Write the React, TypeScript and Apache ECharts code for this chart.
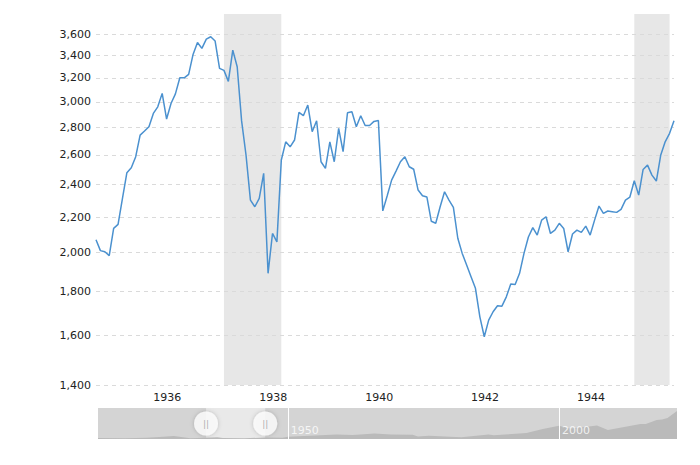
import React, { useEffect, useRef } from 'react';
import * as echarts from 'echarts';

// Monthly categories: Dec 1934 .. Nov 1945 (132 months)
const FIRST_YEAR = 1934;
const FIRST_MONTH = 12;
const MONTH_COUNT = 132;
const months: string[] = [];
for (let k = 0; k < MONTH_COUNT; k++) {
  const m = FIRST_MONTH - 1 + k;
  const y = FIRST_YEAR + Math.floor(m / 12);
  const mm = (m % 12) + 1;
  months.push(`${y}-${String(mm).padStart(2, '0')}`);
}

// Inflation-adjusted index values
const values: number[] = [
  2070, 2010, 2004, 1983, 2134, 2157, 2313, 2479, 2512, 2588, 2743, 2773,
  2805, 2908, 2960, 3069, 2864, 2987, 3065, 3201, 3200, 3230, 3408, 3520,
  3464, 3552, 3574, 3533, 3283, 3265, 3170, 3448, 3297, 2850, 2600, 2303,
  2262, 2313, 2475, 1891, 2105, 2058, 2565, 2694, 2658, 2707, 2916, 2890,
  2974, 2768, 2851, 2553, 2508, 2694, 2553, 2793, 2623, 2913, 2921, 2805,
  2890, 2815, 2815, 2846, 2853, 2237, 2330, 2430, 2490, 2553, 2588, 2519,
  2502, 2366, 2330, 2322, 2175, 2164, 2262, 2355, 2303, 2258, 2078, 1995,
  1934, 1873, 1816, 1682, 1594, 1667, 1705, 1733, 1731, 1775, 1837, 1835,
  1891, 1995, 2085, 2138, 2096, 2182, 2202, 2105, 2124, 2163, 2134, 2004,
  2102, 2124, 2111, 2147, 2096, 2182, 2266, 2222, 2236, 2232, 2228, 2246,
  2303, 2322, 2426, 2334, 2501, 2530, 2463, 2424, 2600, 2694, 2756, 2851,
];

const yTicks: number[] = [1400, 1600, 1800, 2000, 2200, 2400, 2600, 2800, 3000, 3200, 3400, 3600];
const xLabelYears: number[] = [1936, 1938, 1940, 1942, 1944];
const recessions: [string, string][] = [
  ['1937-05', '1938-06'],
  ['1945-02', '1945-10'],
];

// Navigator (full history) – rough annual shape read from the slider
const sliderYears: number[] = [
  1915, 1920, 1924, 1927, 1929, 1931, 1932, 1936, 1937, 1938, 1942, 1946, 1949, 1950,
  1955, 1959, 1962, 1966, 1969, 1973, 1974, 1976, 1980, 1982, 1987, 1988, 1990, 1994,
  1997, 2000, 2002, 2004, 2007, 2009, 2011, 2013, 2015, 2016, 2018, 2019, 2020, 2021.75,
];
const sliderValues: number[] = [
  1200, 1000, 1500, 2700, 3700, 1800, 900, 1800, 2200, 1200, 1000, 1800, 1600, 2800,
  4300, 5500, 4900, 6700, 5500, 5300, 3100, 3900, 2700, 2200, 5500, 4700, 5500, 7400,
  12300, 16300, 12900, 14100, 16500, 11000, 13500, 15900, 18400, 18400, 23300, 23900, 25700, 34300,
];
const sliderMarks: number[] = [1950, 2000];
const SLIDER_MAX = 38000;

const FONT = 'DejaVu Sans';
const LINE_COLOR = '#4b91cf';

const labelSet = new Set(xLabelYears.map((y) => `${y}-01`));
const toYear = (s: string) => Number(s.slice(0, 4)) + (Number(s.slice(5, 7)) - 1) / 12;
const windowStart = toYear(months[0]);
const windowEnd = toYear(months[months.length - 1]);
const fmt = (v: number) => String(v).replace(/\B(?=(\d{3})+(?!\d))/g, ',');

const option: any = {
  animation: false,
  textStyle: { fontFamily: FONT },
  grid: [
    { left: 96, right: 26, top: 14, bottom: 80 },
    { left: 98, right: 23, top: 408, height: 31, show: true, backgroundColor: '#d4d4d4', borderWidth: 0 },
  ],
  xAxis: [
    {
      type: 'category',
      gridIndex: 0,
      data: months,
      boundaryGap: false,
      axisLine: { show: false },
      axisTick: { show: false },
      splitLine: { show: false },
      axisLabel: {
        interval: (_i: number, val: string) => labelSet.has(val),
        formatter: (val: string) => val.slice(0, 4),
        align: 'left',
        margin: 7,
        color: '#222',
        fontSize: 11,
        fontFamily: FONT,
      },
    },
    { type: 'value', gridIndex: 1, min: 1915, max: 2021.75, show: false },
  ],
  yAxis: [
    {
      type: 'log',
      logBase: 10,
      gridIndex: 0,
      min: 1400,
      max: 3800,
      axisLine: { show: false },
      axisTick: { show: false },
      axisLabel: { show: false },
      splitLine: { show: false },
    },
    { type: 'value', gridIndex: 1, min: 0, max: SLIDER_MAX, show: false },
  ],
  series: [
    {
      type: 'line',
      xAxisIndex: 0,
      yAxisIndex: 0,
      data: values,
      symbol: 'none',
      z: 10,
      lineStyle: { color: LINE_COLOR, width: 1.5 },
      markArea: {
        silent: true,
        itemStyle: { color: '#e7e7e7' },
        data: recessions.map(([a, b]) => [{ xAxis: a }, { xAxis: b }]),
      },
      markLine: {
        silent: true,
        symbol: ['none', 'none'],
        lineStyle: { color: '#dadada', type: [4, 4], width: 1 },
        label: {
          show: true,
          position: 'start',
          distance: 5,
          color: '#222',
          fontSize: 11,
          fontFamily: FONT,
          formatter: (p: any) => fmt(p.value),
        },
        data: yTicks.map((v) => ({ yAxis: v })),
      },
    },
    {
      type: 'line',
      xAxisIndex: 1,
      yAxisIndex: 1,
      data: sliderYears.map((y, i) => [y, sliderValues[i]]),
      symbol: 'none',
      silent: true,
      lineStyle: { width: 0 },
      areaStyle: { color: '#bababa', opacity: 1 },
      markArea: {
        silent: true,
        itemStyle: { color: '#e9e9e9' },
        data: [[{ xAxis: windowStart }, { xAxis: windowEnd }]],
      },
      markLine: {
        silent: true,
        symbol: ['none', 'none'],
        label: { show: false },
        lineStyle: { color: '#ffffff', type: 'solid', width: 1 },
        data: sliderMarks.map((x) => ({ xAxis: x })),
      },
    },
    {
      type: 'scatter',
      xAxisIndex: 1,
      yAxisIndex: 1,
      silent: true,
      z: 12,
      symbolSize: 0,
      data: sliderMarks.map((x) => [x, SLIDER_MAX * 0.27]),
      label: {
        show: true,
        position: 'right',
        distance: 3,
        color: '#ffffff',
        fontSize: 11,
        fontFamily: FONT,
        formatter: (p: any) => String(p.value[0]),
      },
    },
    {
      type: 'scatter',
      xAxisIndex: 1,
      yAxisIndex: 1,
      silent: true,
      z: 14,
      symbol: 'circle',
      symbolSize: 24,
      data: [
        [windowStart, SLIDER_MAX * 0.5],
        [windowEnd, SLIDER_MAX * 0.5],
      ],
      itemStyle: { color: '#ffffff', shadowBlur: 4, shadowColor: 'rgba(0,0,0,0.25)' },
      label: {
        show: true,
        position: 'inside',
        formatter: '||',
        color: '#9a9a9a',
        fontSize: 9,
        fontFamily: FONT,
      },
    },
  ],
};

export default function App() {
  const ref = useRef<HTMLDivElement>(null);
  useEffect(() => {
    const chart = echarts.init(ref.current as HTMLDivElement, null, { renderer: 'svg' });
    chart.setOption(option);
    return () => chart.dispose();
  }, []);
  return (
    <div
      ref={ref}
      style={{ position: 'fixed', left: 0, top: 0, width: 700, height: 465, background: '#ffffff' }}
    />
  );
}
